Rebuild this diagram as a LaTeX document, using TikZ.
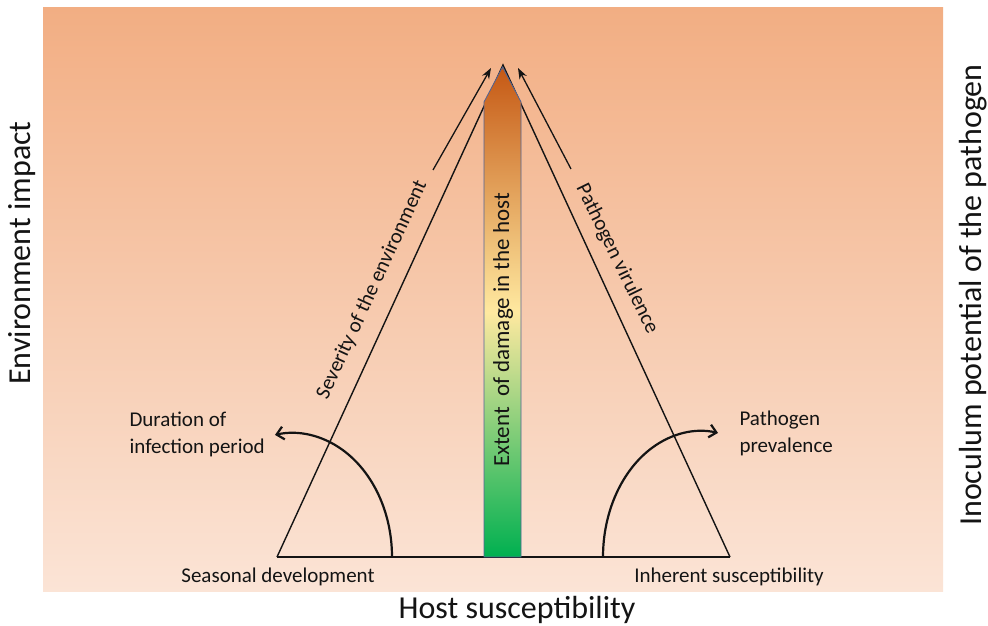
\documentclass[tikz,border=0pt]{standalone}
\usepackage{fontspec}
\setmainfont{Carlito}
\usepackage{xcolor}
\usetikzlibrary{arrows.meta}

\definecolor{bgtop}{RGB}{242,174,131}
\definecolor{bgbot}{RGB}{251,228,214}
\definecolor{dmgtop}{RGB}{197,88,20}
\definecolor{dmgmid}{RGB}{255,233,160}
\definecolor{dmgbot}{RGB}{0,176,80}
\definecolor{barline}{RGB}{80,100,150}
\definecolor{ink}{RGB}{20,20,20}

\tikzset{
  axislabel/.style={text=ink,font=\fontsize{32}{36}\selectfont},
  smalllabel/.style={text=ink,font=\fontsize{21}{27}\selectfont},
  barlabel/.style={text=ink,font=\fontsize{23}{27}\selectfont},
  side/.style={draw=ink,line width=1.4pt},
  turn/.style={draw=ink,line width=2.2pt,-{Straight Barb[length=7pt,width=13pt]}},
  slope/.style={draw=ink,line width=1.3pt,-{Stealth[length=11pt,width=8pt]}}
}

\begin{document}
\begin{tikzpicture}[x=1pt,y=1pt]
\useasboundingbox (0,0) rectangle (988,626);
\shade[top color=bgtop,bottom color=bgbot] (43,34) rectangle (943,618);

\coordinate (apex) at (503,561);
\coordinate (bl) at (277,69);
\coordinate (br) at (730,69);
\draw[side] (bl) -- (apex) -- (br);
\draw[side,line width=1.8pt] (bl) -- (br);

\shade[top color=dmgtop,bottom color=dmgbot,middle color=dmgmid]
  (484,69) -- (484,524) -- (502.5,559) -- (521,524) -- (521,69) -- cycle;
\draw[barline,line width=0.8pt]
  (484,69) -- (484,524) -- (502.5,559) -- (521,524) -- (521,69) -- cycle;
\node[barlabel,rotate=90] (damage) at (503,296) {Extent \ of damage in the host};

\coordinate (sevtail) at (433,456);
\coordinate (sevtip) at (491,558);
\coordinate (virtail) at (571,457);
\coordinate (virtip) at (518,558);
\draw[slope] (sevtail) -- (sevtip);
\draw[slope] (virtail) -- (virtip);

\coordinate (durstart) at (392,69);
\coordinate (prevstart) at (603,69);
\draw[turn] (durstart) arc[start angle=0,end angle=100,x radius=99.7,y radius=124];
\draw[turn] (prevstart) arc[start angle=180,end angle=80,x radius=98,y radius=126];

\node[smalllabel,rotate=65.3] (severity) at (372,336) {Severity of the environment};
\node[smalllabel,rotate=-64] (virulence) at (617,367) {Pathogen virulence};
\node[smalllabel,align=left,anchor=west] (duration) at (126,192) {Duration of\\infection period};
\node[smalllabel,align=left,anchor=west] (prevalence) at (736,193) {Pathogen\\prevalence};
\node[smalllabel] (seasonal) at (278,49) {Seasonal development};
\node[smalllabel] (inherent) at (729,49) {Inherent susceptibility};

\node[axislabel] (host) at (517,16) {Host susceptibility};
\node[axislabel,rotate=90] (env) at (22,373) {Environment impact};
\node[axislabel,rotate=90] (inoculum) at (973,331) {Inoculum potential of the pathogen};
\end{tikzpicture}
\end{document}
